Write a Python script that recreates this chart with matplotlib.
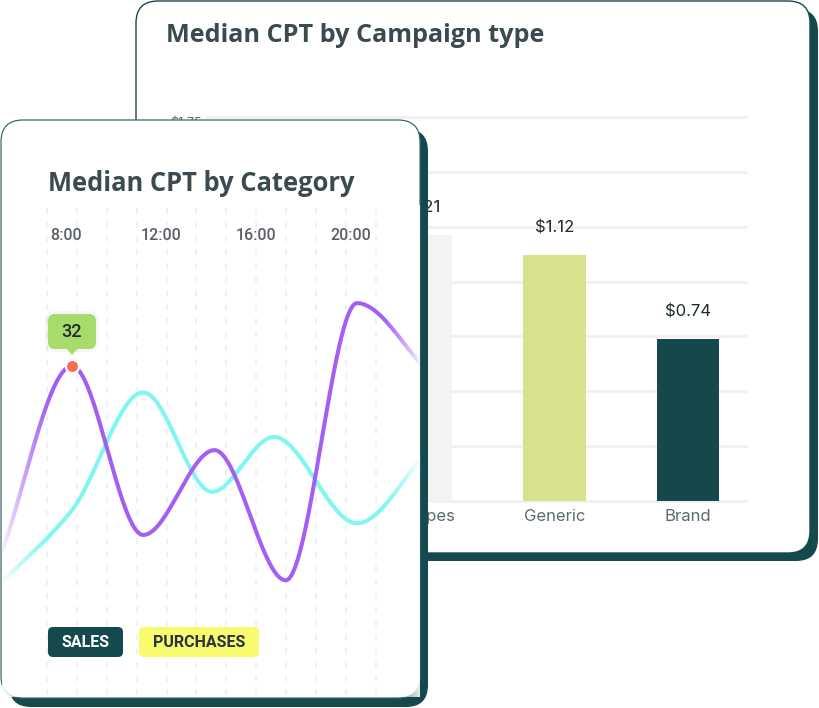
import numpy as np
import matplotlib
matplotlib.use("Agg")
import matplotlib.pyplot as plt
import matplotlib.transforms as mtransforms
from matplotlib.patches import FancyBboxPatch, Polygon

# ---------------- data ----------------
bar_categories = ["All types", "Generic", "Brand"]
bar_values = [1.21, 1.12, 0.74]
bar_ticks = [0, 0.25, 0.5, 0.75, 1.0, 1.25, 1.5, 1.75]
# only the top axis label peeks out from behind the front card
bar_tick_labels = ["", "", "", "", "", "", "", "$1.75"]

hour_ticks = [8, 12, 16, 20]
hour_labels = ["8:00", "12:00", "16:00", "20:00"]

purple_hours = [5, 8, 11, 14, 17, 20, 23]
purple_values = [6.2, 32, 8.9, 20.5, 2.7, 40.6, 31.2]
cyan_hours = [5, 8, 11, 13.9, 16.5, 20, 23]
cyan_values = [2.3, 12.3, 28.4, 14.8, 22.3, 10.5, 20.5]

highlight_index = 1          # purple point shown with the tooltip
legend_labels = ["SALES", "PURCHASES"]

# ---------------- style ----------------
TEAL = "#144a4d"
TITLE_C = "#3b4a51"
PURPLE = "#a55ef3"
CYAN = "#7ff6f2"
BAR_COLORS = ["#f2f4f2", "#d8e18e", "#15484b"]
TITLE_FONT = ["Open Sans", "DejaVu Sans"]
UI_FONT = ["Roboto", "DejaVu Sans"]
NUM_FONT = ["Inter", "DejaVu Sans"]

W, H = 820, 708
fig = plt.figure(figsize=(W / 100, H / 100), dpi=100)
fig.patch.set_facecolor("white")


def px_axes(x0, y0, x1, y1, z):
    ax = fig.add_axes([x0 / W, 1 - y1 / H, (x1 - x0) / W, (y1 - y0) / H])
    ax.set_zorder(z)
    return ax


def pchip(x, y, xs):
    x = np.asarray(x, float)
    y = np.asarray(y, float)
    h = np.diff(x)
    d = np.diff(y) / h
    n = len(x)
    m = np.zeros(n)
    for k in range(1, n - 1):
        if d[k - 1] * d[k] > 0:
            w1 = 2 * h[k] + h[k - 1]
            w2 = h[k] + 2 * h[k - 1]
            m[k] = (w1 + w2) / (w1 / d[k - 1] + w2 / d[k])
    m[0] = d[0]
    m[-1] = d[-1]
    idx = np.clip(np.searchsorted(x, xs) - 1, 0, n - 2)
    t = (xs - x[idx]) / h[idx]
    h00 = 2 * t**3 - 3 * t**2 + 1
    h10 = t**3 - 2 * t**2 + t
    h01 = -2 * t**3 + 3 * t**2
    h11 = t**3 - t**2
    return h00 * y[idx] + h10 * h[idx] * m[idx] + h01 * y[idx + 1] + h11 * h[idx] * m[idx + 1]


# ---------------- background card (back) ----------------
bg = px_axes(0, 0, W, H, 0)
bg.set_xlim(0, W)
bg.set_ylim(H, 0)
bg.axis("off")
bg.add_patch(FancyBboxPatch((144, 9), 674, 552, boxstyle="round,pad=0,rounding_size=22",
                            fc=TEAL, ec="none"))
bg.add_patch(FancyBboxPatch((136, 1), 674, 552, boxstyle="round,pad=0,rounding_size=22",
                            fc="white", ec=TEAL, lw=1.0))
bg.text(166, 42.5, "Median CPT by Campaign type", fontsize=18.2, fontweight="bold",
        color=TITLE_C, family=TITLE_FONT, ha="left", va="baseline")

# ---------------- bar chart ----------------
bx = px_axes(207, 117, 746, 501, 1)
bx.patch.set_visible(False)
bx.set_ylim(0, 1.75)
bx.set_xlim(-1.6, 2.434)
ylab_tr = mtransforms.blended_transform_factory(bx.transAxes, bx.transData)
for v, lab in zip(bar_ticks, bar_tick_labels):
    bx.axhline(v, color="#efeff4", lw=1.8, zorder=0, clip_on=False)
    if lab:
        bx.text(-0.009, v, lab.replace("$", "\\$"), transform=ylab_tr, ha="right", va="top",
                fontsize=9, family=NUM_FONT, color="#5c6a70")
bx.bar(range(len(bar_values)), bar_values, width=0.47, color=BAR_COLORS, zorder=2)
for i, v in enumerate(bar_values):
    bx.annotate(f"\\${v:.2f}", (i, v), xytext=(0, 19.5), textcoords="offset points",
                ha="center", va="center", fontsize=12, family=NUM_FONT, color="#1e2b30")
bx.set_yticks([])
bx.set_xticks(range(len(bar_categories)), bar_categories)
bx.tick_params(length=0, labelsize=12, labelcolor="#5c6a70", pad=6)
for lab in bx.get_xticklabels():
    lab.set_family(NUM_FONT)
for s in bx.spines.values():
    s.set_visible(False)

# ---------------- front card ----------------
fg = px_axes(0, 0, W, H, 2)
fg.patch.set_visible(False)
fg.set_xlim(0, W)
fg.set_ylim(H, 0)
fg.axis("off")
fg.add_patch(FancyBboxPatch((9, 129), 419, 578, boxstyle="round,pad=0,rounding_size=22",
                            fc=TEAL, ec="none"))
fg.add_patch(FancyBboxPatch((1, 120), 419, 578, boxstyle="round,pad=0,rounding_size=22",
                            fc="white", ec="#3d6a6c", lw=0.9))
fg.text(48, 191, "Median CPT by Category", fontsize=18.4, fontweight="bold",
        color=TITLE_C, family=TITLE_FONT, ha="left", va="baseline")

# dashed vertical guides (behind everything else on the card)
for k in range(12):
    gxp = 47 + 29.9 * k
    fg.plot([gxp, gxp], [208, 697], color="#eceef3", lw=1.1, dashes=(4, 5), zorder=1)

chip_specs = [(48, 75, TEAL, "white"), (139, 120, "#f8fb6d", "#2b3340")]
for (cx, cw, fc, tc), lab in zip(chip_specs, legend_labels):
    fg.add_patch(FancyBboxPatch((cx, 627), cw, 30, boxstyle="round,pad=0,rounding_size=5",
                                fc=fc, ec="none", zorder=3))
    fg.text(cx + cw / 2, 642.5, lab, fontsize=11.5, fontweight="bold", color=tc,
            family=UI_FONT, ha="center", va="center", zorder=4)

# ---------------- line chart ----------------
lx = px_axes(2, 205, 420, 697, 3)
lx.patch.set_visible(False)
XL = (5.053, 22.653)
YL = (-13.26, 54.02)
lx.set_xlim(*XL)
lx.set_ylim(*YL)
lx.axis("off")
px_per_h = 23.75

trans_lab = mtransforms.offset_copy(
    mtransforms.blended_transform_factory(lx.transData, lx.transAxes), fig=fig, x=-6, y=0, units="dots")
for h, lab in zip(hour_ticks, hour_labels):
    lx.text(h, 0.937, lab, transform=trans_lab, ha="center", va="center", fontsize=11.5,
            color="#5a5f66", family=UI_FONT, fontweight="medium", zorder=2)

for xs_, ys_, col, z in [(cyan_hours, cyan_values, CYAN, 3), (purple_hours, purple_values, PURPLE, 4)]:
    xx = np.linspace(xs_[0], xs_[-1], 1200)
    yy = pchip(xs_, ys_, xx)
    lx.plot(xx, yy, color=col, lw=2.9, solid_capstyle="round", zorder=z)

# edge fades (white gradients)
nG = 256
gl = np.ones((1, nG, 4))
gl[0, :, 3] = np.linspace(1, 0, nG) ** 1.2 * 0.93
lx.imshow(gl, extent=[XL[0], XL[0] + 48 / px_per_h, YL[0], YL[1]], aspect="auto", zorder=5,
          interpolation="bilinear")
gr = np.ones((1, nG, 4))
gr[0, :, 3] = np.linspace(0, 1, nG) ** 1.3 * 0.92
lx.imshow(gr, extent=[XL[1] - 38 / px_per_h, XL[1], YL[0], YL[1]], aspect="auto", zorder=5,
          interpolation="bilinear")
lx.set_xlim(*XL)
lx.set_ylim(*YL)

# highlight point + tooltip
hx, hy = purple_hours[highlight_index], purple_values[highlight_index]
lx.plot(hx, hy, "o", ms=9.5, mfc="#fd6b56", mec="white", mew=1.6, zorder=8)
dx, dy = lx.transData.transform((hx, hy))
tt = mtransforms.Affine2D().translate(dx, dy)
lx.add_patch(FancyBboxPatch((-27, 14), 54, 41, boxstyle="round,pad=0,rounding_size=10",
                            fc="black", alpha=0.035, ec="none", transform=tt, zorder=6))
lx.add_patch(FancyBboxPatch((-24, 17), 48, 35, boxstyle="round,pad=0,rounding_size=7",
                            fc="#a7db6c", ec="none", transform=tt, zorder=7))
lx.add_patch(Polygon([(-6, 18), (6, 18), (0, 11)], closed=True, fc="#a7db6c", ec="none",
                     transform=tt, zorder=7))
lx.text(0, 34.5, f"{hy:g}", transform=tt, ha="center", va="center", fontsize=13,
        color="#222a35", family=UI_FONT, fontweight="medium", zorder=8)

fig.savefig("out.png", dpi=100)
